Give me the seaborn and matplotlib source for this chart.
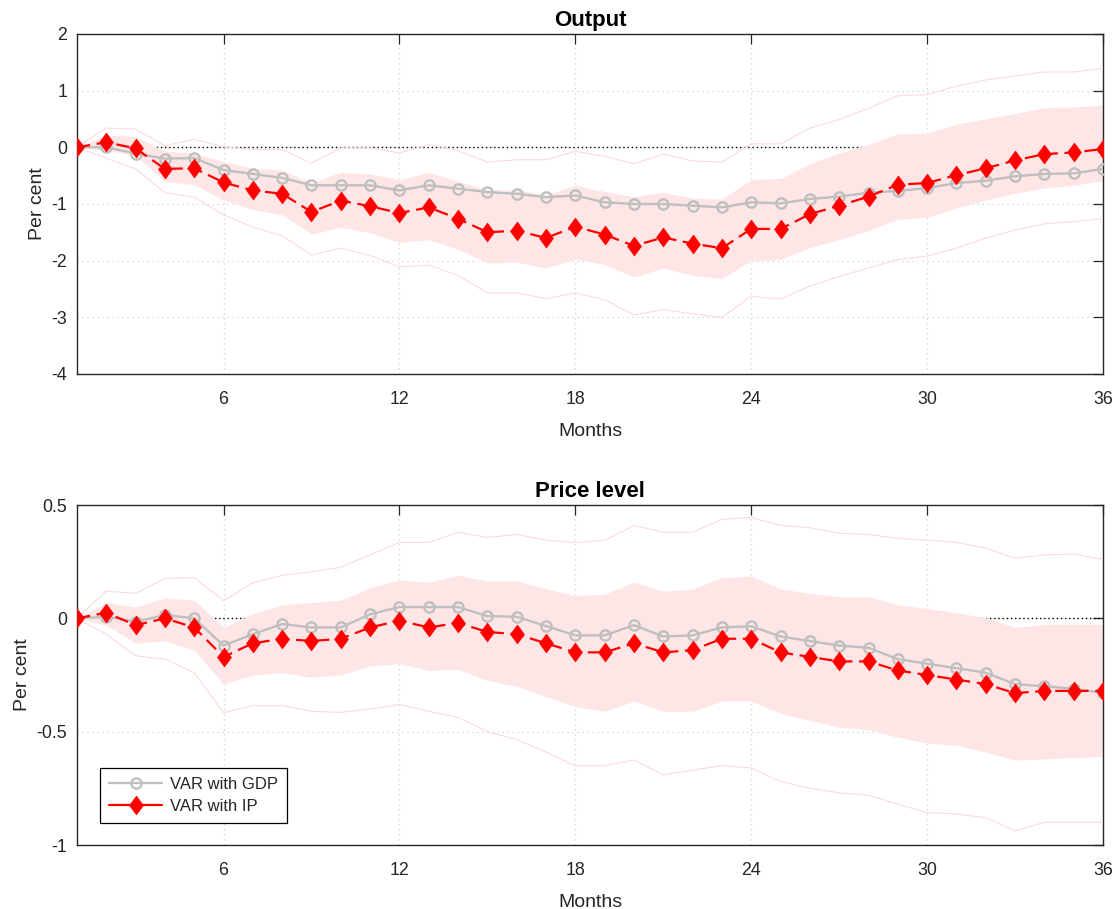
import numpy as np
import pandas as pd
import matplotlib
matplotlib.use("Agg")
import matplotlib.pyplot as plt
import seaborn as sns
from matplotlib.lines import Line2D

sns.set_theme(style="white")
plt.rcParams['font.family'] = ['Liberation Sans', 'DejaVu Sans']

months = list(range(1, 37))
xticks = [6, 12, 18, 24, 30, 36]

# ---------------- Output ----------------
out_gdp = [0.00, 0.00, -0.11, -0.20, -0.19, -0.40, -0.47, -0.54, -0.67, -0.67,
           -0.67, -0.76, -0.67, -0.73, -0.79, -0.82, -0.88, -0.85, -0.97, -1.00,
           -1.00, -1.03, -1.06, -0.97, -0.99, -0.91, -0.87, -0.80, -0.77, -0.72,
           -0.63, -0.59, -0.51, -0.47, -0.46, -0.38]
out_ip = [0.00, 0.09, -0.02, -0.38, -0.37, -0.62, -0.76, -0.82, -1.14, -0.94,
          -1.04, -1.16, -1.06, -1.26, -1.50, -1.47, -1.60, -1.40, -1.54, -1.74,
          -1.59, -1.70, -1.78, -1.44, -1.44, -1.18, -1.03, -0.87, -0.66, -0.63,
          -0.49, -0.37, -0.23, -0.12, -0.09, -0.03]
out_band_hi = [0.00, 0.22, 0.19, -0.07, -0.10, -0.25, -0.37, -0.40, -0.63, -0.44,
               -0.47, -0.57, -0.44, -0.60, -0.75, -0.75, -0.84, -0.67, -0.78, -0.87,
               -0.79, -0.90, -0.91, -0.57, -0.55, -0.29, -0.10, 0.05, 0.24, 0.25,
               0.41, 0.50, 0.60, 0.70, 0.71, 0.75]
out_band_lo = [0.00, -0.05, -0.15, -0.60, -0.66, -0.93, -1.10, -1.19, -1.53, -1.41,
               -1.51, -1.68, -1.63, -1.80, -2.04, -2.03, -2.13, -1.97, -2.07, -2.29,
               -2.13, -2.26, -2.32, -2.00, -1.98, -1.77, -1.63, -1.47, -1.27, -1.24,
               -1.07, -0.93, -0.81, -0.72, -0.67, -0.59]
out_outer_hi = [0.00, 0.34, 0.32, 0.03, 0.14, 0.01, -0.04, -0.04, -0.28, -0.01,
                -0.01, -0.10, 0.05, -0.06, -0.26, -0.22, -0.22, -0.07, -0.16, -0.29,
                -0.12, -0.24, -0.26, 0.06, 0.06, 0.34, 0.49, 0.69, 0.91, 0.93,
                1.08, 1.19, 1.26, 1.33, 1.33, 1.39]
out_outer_lo = [0.00, -0.19, -0.38, -0.80, -0.88, -1.19, -1.41, -1.56, -1.90, -1.78,
                -1.91, -2.11, -2.08, -2.26, -2.57, -2.57, -2.67, -2.57, -2.69, -2.96,
                -2.86, -2.94, -3.00, -2.63, -2.68, -2.45, -2.28, -2.13, -1.98, -1.92,
                -1.78, -1.60, -1.46, -1.35, -1.31, -1.26]

# ---------------- Price level ----------------
pr_gdp = [0.000, 0.007, -0.015, 0.015, 0.000, -0.120, -0.070, -0.025, -0.040, -0.040,
          0.018, 0.050, 0.050, 0.050, 0.010, 0.007, -0.034, -0.075, -0.075, -0.030,
          -0.080, -0.075, -0.040, -0.035, -0.080, -0.100, -0.120, -0.130, -0.180, -0.200,
          -0.220, -0.240, -0.290, -0.300, -0.310, -0.330]
pr_ip = [0.000, 0.025, -0.030, 0.000, -0.040, -0.170, -0.110, -0.090, -0.100, -0.090,
         -0.040, -0.010, -0.040, -0.020, -0.060, -0.070, -0.110, -0.150, -0.150, -0.110,
         -0.150, -0.140, -0.090, -0.090, -0.150, -0.170, -0.190, -0.190, -0.230, -0.250,
         -0.270, -0.290, -0.330, -0.320, -0.320, -0.320]
pr_band_hi = [0.000, 0.070, 0.050, 0.090, 0.080, -0.040, 0.020, 0.060, 0.070, 0.080,
              0.135, 0.170, 0.160, 0.190, 0.165, 0.166, 0.130, 0.100, 0.107, 0.160,
              0.120, 0.130, 0.180, 0.187, 0.130, 0.110, 0.096, 0.096, 0.060, 0.044,
              0.025, 0.003, -0.040, -0.026, -0.026, -0.026]
pr_band_lo = [0.000, -0.030, -0.110, -0.100, -0.140, -0.290, -0.250, -0.240, -0.260, -0.250,
              -0.210, -0.200, -0.230, -0.225, -0.275, -0.300, -0.345, -0.390, -0.410, -0.365,
              -0.410, -0.410, -0.365, -0.365, -0.420, -0.450, -0.480, -0.490, -0.525, -0.550,
              -0.560, -0.590, -0.625, -0.620, -0.615, -0.610]
pr_outer_hi = [0.000, 0.120, 0.110, 0.176, 0.180, 0.078, 0.157, 0.190, 0.205, 0.225,
               0.280, 0.335, 0.335, 0.380, 0.357, 0.370, 0.345, 0.335, 0.345, 0.410,
               0.380, 0.380, 0.437, 0.445, 0.410, 0.400, 0.375, 0.370, 0.353, 0.345,
               0.335, 0.310, 0.265, 0.280, 0.284, 0.260]
pr_outer_lo = [0.000, -0.070, -0.165, -0.180, -0.240, -0.416, -0.385, -0.385, -0.410, -0.415,
               -0.400, -0.380, -0.410, -0.437, -0.500, -0.535, -0.590, -0.650, -0.650, -0.625,
               -0.690, -0.670, -0.650, -0.660, -0.720, -0.750, -0.770, -0.780, -0.820, -0.857,
               -0.863, -0.880, -0.937, -0.900, -0.900, -0.900]

titles = ["Output", "Price level"]
ylims = [(-4, 2), (-1, 0.5)]
yticks_list = [[-4, -3, -2, -1, 0, 1, 2], [-1, -0.5, 0, 0.5]]
ytick_labels = [["-4", "-3", "-2", "-1", "0", "1", "2"], ["-1", "-0.5", "0", "0.5"]]

panels = [
    (out_gdp, out_ip, out_band_lo, out_band_hi, out_outer_lo, out_outer_hi),
    (pr_gdp, pr_ip, pr_band_lo, pr_band_hi, pr_outer_lo, pr_outer_hi),
]

GRAY = (0.75, 0.75, 0.75)
BAND = (1.0, 0.90, 0.90)
OUTER = (1.0, 0.85, 0.85)
AXC = (0.15, 0.15, 0.15)
DIAMOND = [(0, 1), (0.74, 0), (0, -1), (-0.74, 0), (0, 1)]

gdp_style = dict(color=GRAY, linewidth=1.7, marker="o", markersize=7.4,
                 markerfacecolor="none", markeredgecolor=GRAY, markeredgewidth=1.7)
ip_style = dict(color="red", linewidth=1.6, marker=DIAMOND, markersize=13.5,
                markerfacecolor="red", markeredgecolor="red", markeredgewidth=0.5)

fig = plt.figure(figsize=(11.17, 9.09), dpi=100)
positions = [[0.0689, 0.5886, 0.9186, 0.3740], [0.0689, 0.0704, 0.9186, 0.3740]]

for i, (gdp, ip, blo, bhi, olo, ohi) in enumerate(panels):
    ax = fig.add_axes(positions[i])
    df = pd.DataFrame({"m": months, "gdp": gdp, "ip": ip, "blo": blo, "bhi": bhi,
                       "olo": olo, "ohi": ohi})
    ax.grid(True, which="major", color=(0.82, 0.82, 0.82), linestyle=(0, (1, 3)), linewidth=0.9, zorder=0)
    ax.set_axisbelow(True)
    ax.axhline(0, color="black", linestyle=(0, (1, 2)), linewidth=1.0, zorder=1)
    ax.fill_between(df["m"], df["blo"], df["bhi"], color=BAND, linewidth=0, zorder=2)
    sns.lineplot(data=df, x="m", y="ohi", ax=ax, color=OUTER, linewidth=0.8, zorder=3)
    sns.lineplot(data=df, x="m", y="olo", ax=ax, color=OUTER, linewidth=0.8, zorder=3)
    sns.lineplot(data=df, x="m", y="gdp", ax=ax, zorder=4, **gdp_style)
    sns.lineplot(data=df, x="m", y="ip", ax=ax, linestyle=(0, (6, 3)), zorder=5, **ip_style)
    ax.set_xlim(1, 36)
    ax.set_ylim(*ylims[i])
    ax.set_xticks(xticks)
    ax.set_xticklabels([str(t) for t in xticks])
    ax.set_yticks(yticks_list[i])
    ax.set_yticklabels(ytick_labels[i])
    ax.set_title(titles[i], fontsize=16, fontweight="bold", color="black", pad=6)
    ax.set_xlabel("Months", fontsize=14, color=AXC, labelpad=11)
    ax.set_ylabel("Per cent", fontsize=14, color=AXC, labelpad=4)
    ax.tick_params(axis="both", direction="in", length=7, width=0.9, color=AXC,
                   labelsize=12.8, labelcolor=AXC, top=True, right=True)
    ax.tick_params(axis="x", pad=12)
    ax.tick_params(axis="y", pad=7)
    for s in ax.spines.values():
        s.set_color(AXC)
        s.set_linewidth(1.0)
        s.set_visible(True)
    if i == 1:
        handles = [
            Line2D([], [], **gdp_style),
            Line2D([], [], linestyle="-", **ip_style),
        ]
        leg = ax.legend(handles, ["VAR with GDP", "VAR with IP"], loc="lower left",
                        bbox_to_anchor=(0.0224, 0.065), fontsize=12, frameon=True,
                        fancybox=False, edgecolor="black", handlelength=3.2,
                        borderpad=0.55, labelspacing=0.42, handletextpad=0.45,
                        borderaxespad=0, framealpha=1)
        leg.get_frame().set_linewidth(0.9)
    else:
        leg = ax.get_legend()
        if leg is not None:
            leg.remove()

fig.savefig("out.png", dpi=100)
